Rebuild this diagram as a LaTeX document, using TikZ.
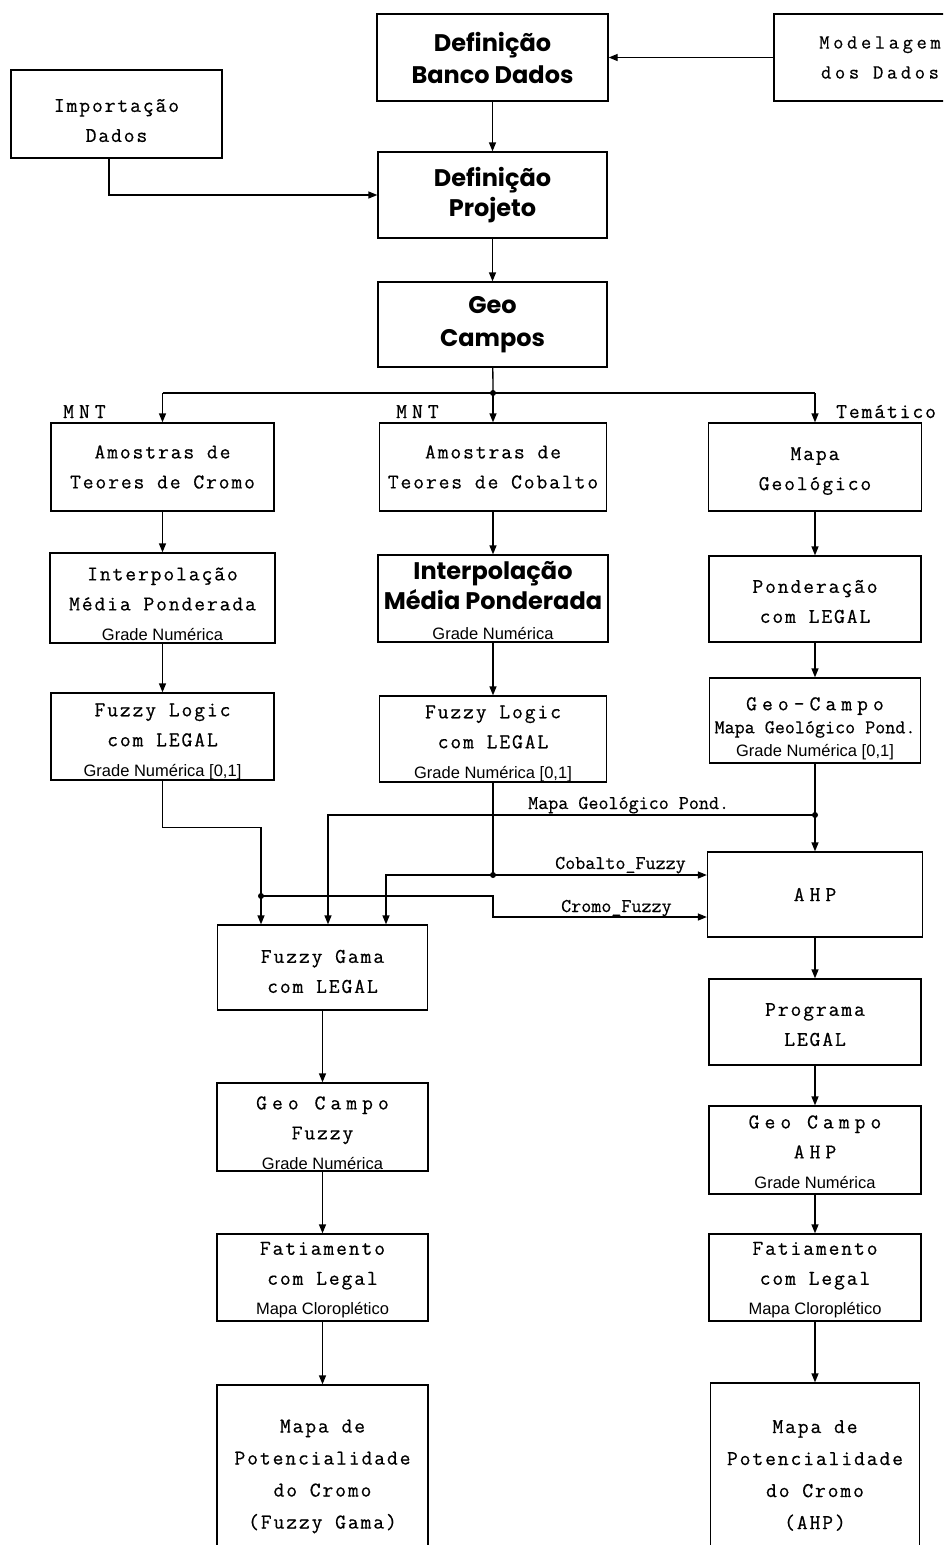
\documentclass[tikz,border=0pt]{standalone}
\usepackage{fontspec}
\newfontfamily\gothfam{Poppins}
\newfontfamily\monofam{lmmono12-regular.otf}[LetterSpace=9, FakeBold=0.5]
\newfontfamily\widefam{lmmono12-regular.otf}[LetterSpace=24, FakeBold=0.5]
\newfontfamily\labfam{lmmono12-regular.otf}[FakeBold=0.5]
\newfontfamily\gradefam{Liberation Sans}
\usetikzlibrary{arrows.meta}

\newcommand\gothtxt{\fontsize{24}{30}\selectfont\gothfam\bfseries}
\newcommand\monotxt{\fontsize{21}{30}\selectfont\monofam}
\newcommand\widetxt{\fontsize{21}{30}\selectfont\widefam}
\newcommand\modtxt{\fontsize{20}{30}\selectfont\monofam\addfontfeatures{LetterSpace=18}}
\newcommand\labtxt{\fontsize{19.5}{30}\selectfont\labfam}
\newcommand\gradetxt{\fontsize{16.5}{30}\selectfont\gradefam\mdseries}

\tikzset{
  bloco/.style={draw, line width=1.3pt, inner sep=0pt, align=center, font=\monotxt},
  tam/.style 2 args={minimum width=#1pt, minimum height=#2pt},
  linha/.style={text height=#1pt},
  seta/.style={line width=1.3pt, -{Triangle[length=9pt,width=7pt]}},
  liga/.style={line width=1.3pt},
  rotulo/.style={anchor=base west, inner sep=0pt, font=\labtxt}
}

\begin{document}
\begin{tikzpicture}[x=1pt, y=-1pt]
  \path[use as bounding box, fill=white] (0,0) rectangle (943,1545);
  \clip (0,0) rectangle (943,1545);

  % banco e projeto
  \node[bloco, tam={212}{87}, font=\modtxt] (modelagem) at (880,57.5) {Modelagem\\dos Dados};
  \node[bloco, tam={231}{87}, font=\gothtxt] (banco) at (492.5,57.5) {Definição\\[2pt]Banco Dados};
  \node[bloco, linha=56, tam={211}{88}] (importa) at (116.5,114) {Importação\\Dados};
  \node[bloco, tam={229}{86}, font=\gothtxt] (projeto) at (492.5,195) {Definição\\Projeto};
  \node[bloco, tam={229}{85}, font=\gothtxt] (geocampos) at (492.5,324.5) {Geo\\[3pt]Campos};

  \draw[seta] (modelagem.west) -- (banco.east);
  \draw[seta] (banco) -- (projeto);
  \draw[seta] ([xshift=-7.5pt]importa.south) |- (projeto.west);
  \draw[seta] (projeto) -- (geocampos);

  % tres colunas
  \node[bloco, tam={223}{88}] (amcromo) at (162.5,467) {Amostras de\\Teores de Cromo};
  \node[bloco, tam={227}{88}] (amcobalto) at (493,467) {Amostras de\\Teores de Cobalto};
  \node[bloco, linha=51, tam={213}{88}] (mapageo) at (815,467) {Mapa\\Geológico};

  \node[bloco, linha=85, tam={225}{90}] (intcromo) at (162.5,598) {Interpolação\\Média Ponderada\\\gradetxt Grade Numérica};
  \node[bloco, linha=83, tam={230}{87}, font=\gothtxt] (intcobalto) at (493,598.5) {Interpolação\\Média Ponderada\\\gradetxt Grade Numérica};
  \node[bloco, linha=48, tam={212}{86}] (ponder) at (815,599) {Ponderação\\com LEGAL};

  \node[bloco, linha=83, tam={223}{87}] (fzcromo) at (162.5,736.5) {Fuzzy Logic\\com LEGAL\\\gradetxt Grade Numérica [0,1]};
  \node[bloco, linha=82, tam={227}{86}] (fzcobalto) at (493,739) {Fuzzy Logic\\com LEGAL\\\gradetxt Grade Numérica [0,1]};
  \node[bloco, linha=75, tam={211}{85}, font=\widetxt] (geocampo) at (815,720.5) {Geo-Campo\\[-7pt]\labtxt Mapa Geológico Pond.\\[-7pt]\gradetxt Grade Numérica [0,1]};

  \coordinate (ramo) at (493,393);
  \draw[liga] (geocampos) -- (ramo);
  \draw[liga] (ramo -| amcromo) -- (ramo -| mapageo);
  \fill (ramo) circle (3pt);
  \draw[seta] (ramo -| amcromo) -- (amcromo);
  \draw[seta] (ramo) -- (amcobalto);
  \draw[seta] (ramo -| mapageo) -- (mapageo);

  \node[rotulo, font=\widetxt] (mnta) at (63,418) {MNT};
  \node[rotulo, font=\widetxt] (mntb) at (396,418) {MNT};
  \node[rotulo, font=\monotxt] (tema) at (836,418) {Temático};

  \draw[seta] (amcromo) -- (intcromo);
  \draw[seta] (intcromo) -- (fzcromo);
  \draw[seta] (amcobalto) -- (intcobalto);
  \draw[seta] (intcobalto) -- (fzcobalto);
  \draw[seta] (mapageo) -- (ponder);
  \draw[seta] (ponder) -- (geocampo);

  % fuzzy gama e AHP
  \node[bloco, tam={215}{85}, font=\widetxt] (ahp) at (815,894.5) {AHP};
  \node[bloco, linha=51, tam={210}{85}] (fzgama) at (322.5,967.5) {Fuzzy Gama\\com LEGAL};
  \node[bloco, linha=48, tam={212}{86}] (programa) at (815,1022) {Programa\\LEGAL};
  \node[bloco, linha=85, tam={211}{88}, font=\widetxt] (gcfuzzy) at (322.5,1127) {Geo Campo\\\monotxt Fuzzy\\\gradetxt Grade Numérica};
  \node[bloco, linha=77, tam={212}{88}, font=\widetxt] (gcahp) at (815,1150) {Geo Campo\\AHP\\\gradetxt Grade Numérica};
  \node[bloco, linha=78, tam={211}{87}] (fatfuzzy) at (322.5,1277.5) {Fatiamento\\com Legal\\\gradetxt Mapa Cloroplético};
  \node[bloco, linha=78, tam={212}{87}] (fatahp) at (815,1277.5) {Fatiamento\\com Legal\\\gradetxt Mapa Cloroplético};
  \node[bloco, tam={211}{183}] (potfuzzy) at (322.5,1476.5) {Mapa de\\[2pt]Potencialidade\\[2pt]do Cromo\\[2pt](Fuzzy Gama)};
  \node[bloco, tam={209}{185}] (potahp) at (815,1475.5) {Mapa de\\[2pt]Potencialidade\\[2pt]do Cromo\\[2pt](AHP)};

  \coordinate (jcromo) at (261,896);
  \coordinate (jcobalto) at (493,875);
  \coordinate (jgeo) at (815,815);
  \coordinate (dobra) at (493,917);
  \coordinate (ecobalto) at (386,875);
  \coordinate (egeo) at (328,815);

  \draw[seta] (fzcromo.south) -- ++(0,47) -| (jcromo) -- (jcromo |- fzgama.north);
  \draw[seta] (jcromo) -| (dobra) -- (dobra -| ahp.west);
  \draw[seta] (fzcobalto.south) -- (jcobalto) -- (jcobalto -| ahp.west);
  \draw[seta] (jcobalto) -- (ecobalto) -- (ecobalto |- fzgama.north);
  \draw[liga] (geocampo.south) -- (jgeo);
  \draw[seta] (jgeo) -- (ahp.north);
  \draw[seta] (jgeo) -- (egeo) -- (egeo |- fzgama.north);
  \fill (jcromo) circle (3pt);
  \fill (jcobalto) circle (3pt);
  \fill (jgeo) circle (3pt);

  \node[rotulo] (lgeo) at (528,809) {Mapa Geológico Pond.};
  \node[rotulo] (lcobalto) at (555,869) {Cobalto\_Fuzzy};
  \node[rotulo] (lcromo) at (561,912) {Cromo\_Fuzzy};

  \draw[seta] (fzgama) -- (gcfuzzy);
  \draw[seta] (gcfuzzy) -- (fatfuzzy);
  \draw[seta] (fatfuzzy) -- (potfuzzy);
  \draw[seta] (ahp) -- (programa);
  \draw[seta] (programa) -- (gcahp);
  \draw[seta] (gcahp) -- (fatahp);
  \draw[seta] (fatahp) -- (potahp);
\end{tikzpicture}
\end{document}
